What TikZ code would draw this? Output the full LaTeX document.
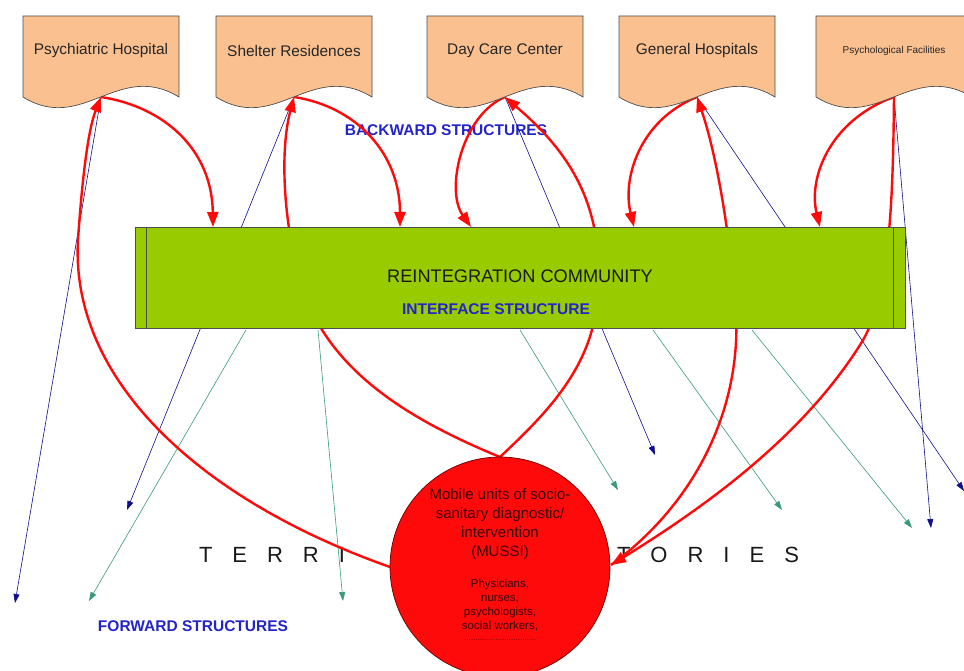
\documentclass[tikz,border=0pt]{standalone}
\usepackage{fontspec}
\setmainfont{Liberation Sans}
\usetikzlibrary{arrows.meta}
\definecolor{peach}{HTML}{FAC090}
\definecolor{limec}{HTML}{99CC00}
\definecolor{navyc}{HTML}{10108A}
\definecolor{tealc}{HTML}{3A9A78}
\definecolor{bluelab}{HTML}{2424C8}
\definecolor{redc}{HTML}{FF0A0A}
\definecolor{darktxt}{HTML}{3A0505}
\newcommand{\fsz}[1]{\fontsize{#1}{#1}\selectfont}
\newcommand{\gp}{\hspace{20pt}}
\newcommand{\docbox}[4]{%
  \filldraw[fill=peach,draw=black!70,line width=0.7pt] (#1,16) -- ({#1+156},16) -- ({#1+156},97)
     .. controls ({#1+95},60) and ({#1+60},134) .. (#1,97) -- cycle;
  \node[font=#3,text=black!85] (#2) at ({#1+78},50.5) {#4};
  \coordinate (#2b) at ({#1+78},97);
}
\tikzset{
  redarrow/.style={draw=redc, line width=2.4pt, -{Triangle[length=15pt,width=11pt]}},
  navyarrow/.style={draw=navyc, line width=0.6pt, -{Triangle[length=9pt,width=6pt]}},
  tealarrow/.style={draw=tealc, line width=0.6pt, -{Triangle[length=9pt,width=6pt]}},
  lab/.style={font=\bfseries\fsz{15.5}, text=bluelab},
  terr/.style={font=\fsz{22}, text=black!90}
}
\begin{document}
\begin{tikzpicture}[x=1pt,y=-1pt]
\clip (0,0) rectangle (964,671);
\fill[white] (0,0) rectangle (964,671);

% anchor coordinates for documents (defined before lines)
\coordinate (d1b) at (101,97);
\coordinate (d2b) at (294,97);
\coordinate (d3b) at (505,97);
\coordinate (d4b) at (697,97);
\coordinate (d5b) at (894,97);

\path (500,567) coordinate (muc);

% labels
\node[lab] (bw) at (446,130) {BACKWARD STRUCTURES};
\node[lab] (fw) at (193,626) {FORWARD STRUCTURES};
\node[terr] (te1) at (272,555) {T\gp E\gp R\gp R\gp I};
\node[terr] (te2) at (708,555) {T\gp O\gp R\gp I\gp E\gp S};

% end coordinates of thin arrows
\coordinate (n1) at (15,603);
\coordinate (n2) at (127,510);
\coordinate (n3) at (655,455);
\coordinate (n4) at (964,491);
\coordinate (n5) at (931,528);
\coordinate (t1s) at (246,330);
\coordinate (t2s) at (318,330);
\coordinate (t3s) at (520,330);
\coordinate (t4s) at (653,330);
\coordinate (t5s) at (752,330);
\coordinate (t1e) at (89,601);
\coordinate (t2e) at (343,601);
\coordinate (t3e) at (618,490);
\coordinate (t4e) at (782,510);
\coordinate (t5e) at (912,528);

% navy thin arrows
\draw[navyarrow] (d1b) -- (n1);
\draw[navyarrow] (d2b) -- (n2);
\draw[navyarrow] (d3b) -- (n3);
\draw[navyarrow] (d4b) -- (n4);
\draw[navyarrow] (d5b) -- (n5);
% teal thin arrows
\draw[tealarrow] (t1s) -- (t1e);
\draw[tealarrow] (t2s) -- (t2e);
\draw[tealarrow] (t3s) -- (t3e);
\draw[tealarrow] (t4s) -- (t4e);
\draw[tealarrow] (t5s) -- (t5e);

% rect top end points for backward arrows
\coordinate (r1) at (213,227);
\coordinate (r2) at (400,227);
\coordinate (r3) at (471,227);
\coordinate (r4) at (634,227);
\coordinate (r5) at (820,227);

% circle anchors
\coordinate (mw) at (390,567);
\coordinate (mn) at (500,457);
\coordinate (me) at (611,565);

% backward red arrows (documents -> interface)
\draw[redarrow] (d1b) .. controls (165,107) and (212,150) .. (r1);
\draw[redarrow] (d2b) .. controls (358,107) and (400,155) .. (r2);
\draw[redarrow] (d3b) .. controls (462,115) and (445,190) .. (r3);
\draw[redarrow] (d4b) .. controls (640,120) and (622,178) .. (r4);
\draw[redarrow] (d5b) .. controls (830,120) and (808,178) .. (r5);

% red arrows between MUSSI and documents
\draw[redarrow] (mw) .. controls (200,500) and (70,380) .. (78,240) .. controls (82,180) and (88,130) .. (d1b);
\draw[redarrow] (mn) .. controls (410,420) and (325,370) .. (300,280) .. controls (283,220) and (280,150) .. (d2b);
\draw[redarrow] (mn) .. controls (550,410) and (600,360) .. (598,280) .. controls (602,190) and (555,140) .. (d3b);
\draw[redarrow] (me) .. controls (700,500) and (745,400) .. (735,300) .. controls (728,220) and (715,150) .. (d4b);
\draw[redarrow] (d5b) .. controls (893,200) and (890,300) .. (860,345) .. controls (800,440) and (700,510) .. (me);

% interface rectangle
\node[draw=black!70, fill=limec, line width=0.7pt, minimum width=770pt, minimum height=101pt, inner sep=0pt] (rc) at (520,277.5) {};
\draw[black!70, line width=0.7pt] ([xshift=12pt]rc.north west) -- ([xshift=12pt]rc.south west);
\draw[black!70, line width=0.7pt] ([xshift=-12pt]rc.north east) -- ([xshift=-12pt]rc.south east);
\node[font=\fsz{18.2}, text=black!90] (rt) at (520,276) {REINTEGRATION COMMUNITY};
\node[font=\bfseries\fsz{15.5}, text=bluelab] (is) at (496,309) {INTERFACE STRUCTURE};

% documents
\docbox{23}{d1}{\fsz{15.4}}{Psychiatric Hospital}
\docbox{216}{d2}{\fsz{15.4}}{Shelter Residences}
\docbox{427}{d3}{\fsz{15.4}}{Day Care Center}
\docbox{619}{d4}{\fsz{15.4}}{General Hospitals}
\docbox{816}{d5}{\fsz{10}}{Psychological Facilities}

% MUSSI circle
\node[circle, fill=redc, draw=black!60!red, line width=0.7pt, minimum size=220pt, inner sep=0pt] (mu) at (muc) {};
\node[align=center, font=\fontsize{15}{19}\selectfont, text=darktxt] (mt) at (500,524) {Mobile units of socio-\\sanitary diagnostic/\\intervention\\(MUSSI)};
\node[align=center, font=\fontsize{11.5}{14}\selectfont, text=darktxt] (mp) at (500,605) {Physicians,\\nurses,\\psychologists,\\social workers,};
\node[font=\fsz{8}, text=darktxt!70!red] (md) at (500,640) {................................};
\end{tikzpicture}
\end{document}
